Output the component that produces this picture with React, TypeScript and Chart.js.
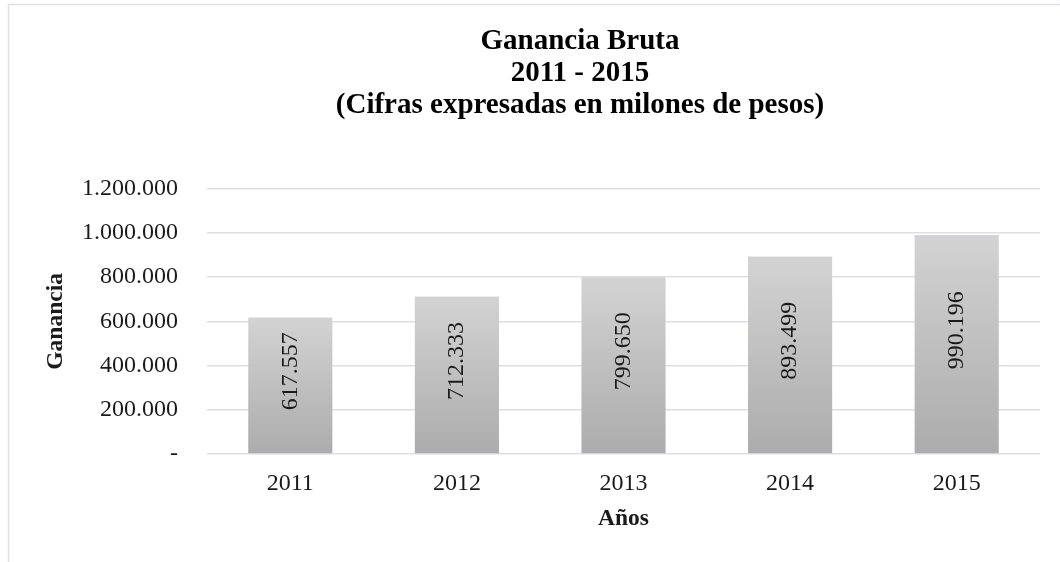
import React, { useEffect, useRef } from "react";
import { Chart, registerables } from "chart.js";

Chart.register(...registerables);

const years = ["2011", "2012", "2013", "2014", "2015"];
const ganancia = [617557, 712333, 799650, 893499, 990196];
const titleLines = ["Ganancia Bruta", "2011 - 2015", "(Cifras expresadas en milones de pesos)"];
const yAxisTitle = "Ganancia";
const xAxisTitle = "Años";
const yMax = 1200000;
const yStep = 200000;

const FONT = '"Liberation Serif", "Times New Roman", serif';

const fmt = (v: number) =>
  v === 0 ? "-" : String(Math.round(v)).replace(/\B(?=(\d{3})+(?!\d))/g, ".");

const framePlugin = {
  id: "frame",
  afterLayout(chart: any) {
    const tb = chart.titleBlock;
    if (tb) {
      tb.left = 8;
      tb.right = 1152;
      tb.width = tb.right - tb.left;
    }
  },
  beforeDraw(chart: any) {
    const c = chart.ctx;
    c.save();
    c.strokeStyle = "#dde1e7";
    c.lineWidth = 1.5;
    c.strokeRect(8.5, 4.5, 3000, 3000);
    c.restore();
  },
};

const labelPlugin = {
  id: "barLabels",
  afterDatasetsDraw(chart: any) {
    const c = chart.ctx;
    const meta = chart.getDatasetMeta(0);
    const data = chart.data.datasets[0].data as number[];
    c.save();
    c.font = `24px ${FONT}`;
    c.fillStyle = "#1a1a1a";
    c.textAlign = "center";
    c.textBaseline = "middle";
    meta.data.forEach((el: any, i: number) => {
      const { x, y, base } = el.getProps(["x", "y", "base"], true);
      const cy = (y + base) / 2 - 14;
      c.save();
      c.translate(x, cy);
      c.rotate(-Math.PI / 2);
      c.fillText(fmt(data[i]), 0, 0);
      c.restore();
    });
    c.restore();
  },
};

export default function App() {
  const ref = useRef<HTMLCanvasElement>(null);
  useEffect(() => {
    if (!ref.current) return;
    const chart = new Chart(ref.current, {
      type: "bar",
      data: {
        labels: years,
        datasets: [
          {
            data: ganancia,
            barPercentage: 0.505,
            categoryPercentage: 1,
            backgroundColor: (ctx: any) => {
              const ch = ctx.chart;
              if (!ch.chartArea || ctx.type !== "data" || !ch.scales.y) return "#c0c0c0";
              const ys = ch.scales.y;
              const top = ys.getPixelForValue(ctx.raw);
              const base = ys.getPixelForValue(0);
              if (!isFinite(top) || !isFinite(base) || top === base) return "#c0c0c0";
              const g = ch.ctx.createLinearGradient(0, top, 0, base);
              g.addColorStop(0, "#d3d3d3");
              g.addColorStop(1, "#acacac");
              return g;
            },
            borderWidth: 0,
          },
        ],
      },
      options: {
        responsive: false,
        animation: false,
        devicePixelRatio: 1,
        layout: { padding: { left: 8, right: 20, top: 0, bottom: 18 } },
        plugins: {
          legend: { display: false },
          tooltip: { enabled: false },
          title: {
            display: true,
            text: titleLines,
            color: "#000000",
            font: { family: FONT, size: 29, weight: "bold", lineHeight: 1.1 },
            padding: { top: 26, bottom: 67 },
          },
        },
        scales: {
          x: {
            grid: { display: false },
            border: { display: false },
            ticks: {
              color: "#1a1a1a",
              font: { family: FONT, size: 24 },
              padding: 7,
              maxRotation: 0,
            },
            title: {
              display: true,
              text: xAxisTitle,
              color: "#1a1a1a",
              font: { family: FONT, size: 23.5, weight: "bold" },
              padding: { top: 0, bottom: 11 },
            },
            afterFit(scale: any) {
              scale.height = 90;
            },
          },
          y: {
            min: 0,
            max: yMax,
            grid: { color: "#dce0e6", lineWidth: 1.5, drawTicks: false },
            border: { display: false },
            ticks: {
              stepSize: yStep,
              color: "#1a1a1a",
              font: { family: FONT, size: 24 },
              padding: 29,
              callback: (v: any) => fmt(Number(v)),
            },
            title: {
              display: true,
              text: yAxisTitle,
              color: "#1a1a1a",
              font: { family: FONT, size: 23.5, weight: "bold" },
              padding: { top: 34, bottom: 0 },
            },
            afterFit(scale: any) {
              scale.width = 199;
            },
          },
        },
      },
      plugins: [framePlugin, labelPlugin],
    });
    return () => chart.destroy();
  }, []);
  return (
    <canvas
      ref={ref}
      width={1060}
      height={562}
      style={{ position: "absolute", left: 0, top: 0, width: 1060, height: 562, display: "block" }}
    />
  );
}
